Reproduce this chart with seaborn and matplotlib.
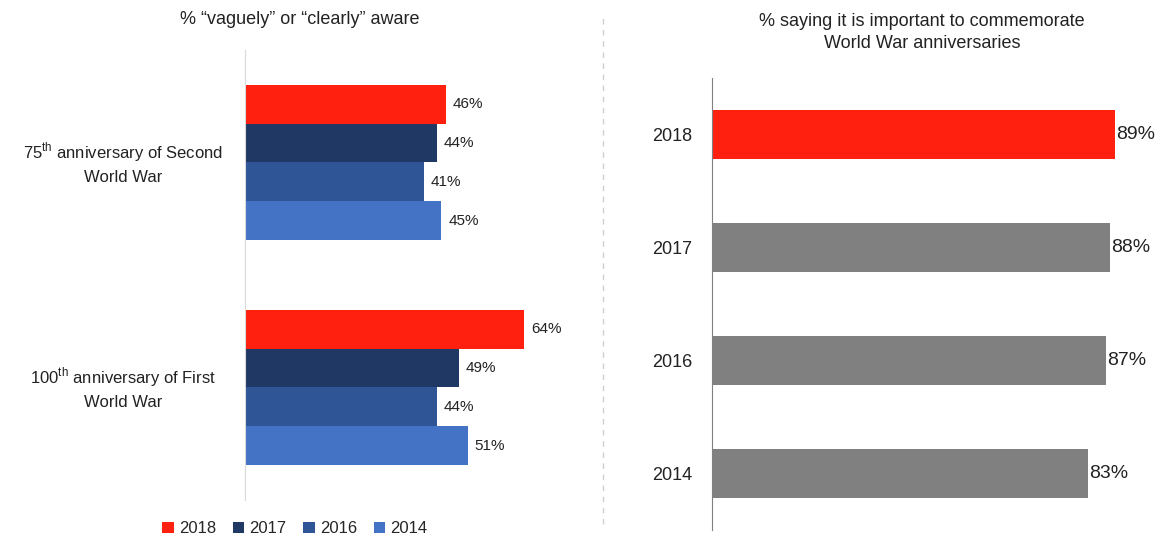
import pandas as pd
import seaborn as sns
import matplotlib.pyplot as plt
import matplotlib.transforms as mtransforms

# data
events = ["75$^{\\mathrm{th}}$ anniversary of Second\nWorld War",
          "100$^{\\mathrm{th}}$ anniversary of First\nWorld War"]
years = ["2018", "2017", "2016", "2014"]
aware_75th = [46, 44, 41, 45]
aware_100th = [64, 49, 44, 51]
important = [89, 88, 87, 83]

year_colors = {"2018": "#FF2010", "2017": "#1F3864", "2016": "#2F5597", "2014": "#4472C4"}
right_colors = {"2018": "#FF2010", "2017": "#808080", "2016": "#808080", "2014": "#808080"}

sns.set_style("white")
plt.rcParams["font.family"] = ["Liberation Sans", "DejaVu Sans"]
plt.rcParams["mathtext.fontset"] = "custom"
plt.rcParams["mathtext.rm"] = "Liberation Sans"

left = pd.DataFrame({
    "event": [events[0]] * 4 + [events[1]] * 4,
    "year": years * 2,
    "pct": aware_75th + aware_100th,
})
right = pd.DataFrame({"year": years, "pct": important})

fig = plt.figure(figsize=(11.65, 5.37), dpi=100)
ax1 = fig.add_axes([0.2103, 0.0689, 0.296, 0.838])
ax2 = fig.add_axes([0.6112, 0.013, 0.3845, 0.8417])

# left chart - awareness by anniversary
sns.barplot(data=left, y="event", x="pct", hue="year", hue_order=years,
            palette=year_colors, width=0.69, orient="h", ax=ax1, linewidth=0,
            saturation=1)
for c in ax1.containers:
    ax1.bar_label(c, fmt="{:.0f}%", padding=5, fontsize=11, color="#222222")
ax1.set_xlim(0, 79)
ax1.set_ylim(1.5, -0.5)
ax1.set_xlabel("")
ax1.set_ylabel("")
ax1.set_xticks([])
ax1.set_yticklabels([])
ax1.tick_params(axis="y", length=0)
trans = mtransforms.blended_transform_factory(ax1.transAxes, ax1.transData)
for i, ev in enumerate(events):
    ax1.text(-0.354, i, ev, transform=trans, ha="center", va="center",
             multialignment="center", fontsize=12, color="#222222",
             linespacing=1.5)
for s in ["top", "right", "bottom"]:
    ax1.spines[s].set_visible(False)
ax1.spines["left"].set_color("#D9D9D9")

handles, labels = ax1.get_legend_handles_labels()
ax1.get_legend().remove()
fig.legend(handles, labels, loc="center", bbox_to_anchor=(0.253, 0.015), ncol=4,
           frameon=False, fontsize=12, handlelength=0.7, handleheight=0.7,
           handletextpad=0.3, columnspacing=1.0)

# right chart - importance of commemorating
sns.barplot(data=right, y="year", x="pct", hue="year", palette=right_colors,
            width=0.44, orient="h", ax=ax2, legend=False, linewidth=0,
            saturation=1)
for c in ax2.containers:
    ax2.bar_label(c, fmt="{:.0f}%", padding=1, fontsize=14, color="#222222")
ax2.set_xlim(0, 99)
ax2.set_ylim(3.5, -0.5)
ax2.set_xlabel("")
ax2.set_ylabel("")
ax2.set_xticks([])
ax2.tick_params(axis="y", length=0, labelsize=13, pad=14, labelcolor="#222222")
for s in ["top", "right", "bottom"]:
    ax2.spines[s].set_visible(False)
ax2.spines["left"].set_color("#808080")

# titles
fig.text(0.2575, 0.963, "% \u201cvaguely\u201d or \u201cclearly\u201d aware",
         ha="center", va="center", fontsize=13, color="#222222")
fig.text(0.7914, 0.9395, "% saying it is important to commemorate\nWorld War anniversaries",
         ha="center", va="center", fontsize=13, color="#222222", linespacing=1.4)

# dashed separator
fig.add_artist(plt.Line2D([0.5176, 0.5176], [0.025, 0.97], transform=fig.transFigure,
                          color="#D0D0D0", linestyle=(0, (4, 4)), linewidth=1))

plt.savefig("out.png", dpi=100)
